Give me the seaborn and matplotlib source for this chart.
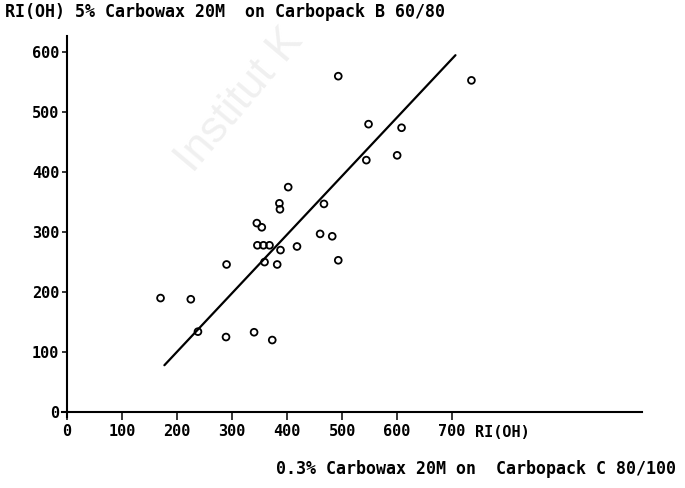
import matplotlib
matplotlib.use("Agg")
import matplotlib.pyplot as plt
import seaborn as sns
import pandas as pd

# Retention indices RI(OH): 0.3% Carbowax 20M on Carbopack C 80/100 (x)
# versus 5% Carbowax 20M on Carbopack B 60/80 (y)
ri_carbopack_c = [170, 225, 238, 290, 289, 340, 402, 386, 387, 467, 345, 354,
                  346, 357, 368, 388, 418, 460, 482, 493, 359, 382, 373, 493,
                  735, 548, 608, 544, 600]
ri_carbopack_b = [190, 188, 134, 246, 125, 133, 375, 348, 338, 347, 315, 308,
                  278, 278, 278, 270, 276, 297, 293, 253, 250, 246, 120, 560,
                  553, 480, 474, 420, 428]

# Fitted correlation line (end points)
fit_x = [177, 706]
fit_y = [78, 595]

x_ticks = [0, 100, 200, 300, 400, 500, 600, 700]
y_ticks = [0, 100, 200, 300, 400, 500, 600]

title_text = "RI(OH) 5% Carbowax 20M  on Carbopack B 60/80"
x_title_text = "0.3% Carbowax 20M on  Carbopack C 80/100"
x_unit_text = "RI(OH)"

points = pd.DataFrame({"c": ri_carbopack_c, "b": ri_carbopack_b})
fit = pd.DataFrame({"c": fit_x, "b": fit_y})

sns.set_style("white")
plt.rcParams["font.family"] = ["DejaVu Sans Mono", "DejaVu Sans"]
plt.rcParams["font.weight"] = "bold"

W, H = 685, 488
fig = plt.figure(figsize=(W / 100, H / 100), dpi=100)
ax = fig.add_axes([61.5 / W, 1 - 416.8 / H, (642 - 61.5) / W, (416.8 - 36) / H])

# faint background stamp
fig.text(240 / W, 1 - 100 / H, "Institut K", rotation=50, fontsize=32,
         color="#f0f0f0", family="Liberation Sans", weight="normal",
         ha="center", va="center", zorder=0)

sns.lineplot(data=fit, x="c", y="b", color="black", linewidth=1.6, ax=ax,
             zorder=2)
sns.scatterplot(data=points, x="c", y="b", marker="o", s=24,
                facecolor="none", edgecolor="black", linewidth=1.3, ax=ax,
                zorder=3)

ax.set_xlim(-10, 1045)
ax.set_ylim(-8, 627)
ax.patch.set_alpha(0)

for side in ("top", "right"):
    ax.spines[side].set_visible(False)
for side in ("left", "bottom"):
    ax.spines[side].set_position(("data", 0))
    ax.spines[side].set_linewidth(1.5)
    ax.spines[side].set_color("black")

ax.set_xticks(x_ticks)
ax.set_yticks(y_ticks)
ax.set_xticklabels([str(v) for v in x_ticks])
ax.set_yticklabels([str(v) for v in y_ticks])
ax.tick_params(axis="x", direction="out", length=5.5, width=1.1, pad=3,
               labelsize=11, colors="black", bottom=True)
ax.tick_params(axis="y", direction="out", length=3.5, width=1.1, pad=2,
               labelsize=11, colors="black", left=True)
for lab in ax.get_xticklabels() + ax.get_yticklabels():
    lab.set_fontweight("bold")
ax.set_xlabel("")
ax.set_ylabel("")

ax.annotate(x_unit_text, xy=(742, 0), xytext=(0, -9), textcoords="offset points",
            ha="left", va="top", fontsize=11, weight="bold", color="black")

fig.text(5 / W, 1 - 12 / H, title_text, ha="left", va="center",
         fontsize=12, weight="bold", color="black")
fig.text(676 / W, 1 - 469 / H, x_title_text, ha="right", va="center",
         fontsize=12, weight="bold", color="black")

fig.savefig("out.png", dpi=100)
